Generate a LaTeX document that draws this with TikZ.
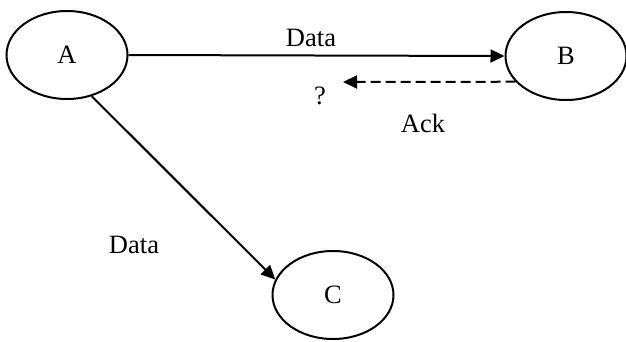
\documentclass[tikz,border=0pt]{standalone}
\usepackage{fontspec}
\setmainfont{Liberation Serif}
\usetikzlibrary{arrows.meta,shapes.geometric}
\begin{document}
\begin{tikzpicture}[x=1pt,y=-1pt,
  state/.style={ellipse,draw,line width=2pt,minimum width=121pt,minimum height=88pt,inner sep=0pt,font=\fontsize{26.5}{31}\selectfont},
  lbl/.style={font=\fontsize{26.5}{31}\selectfont,inner sep=0pt},
  link/.style={line width=2pt,-{Triangle[length=14pt,width=13pt]}}]
\useasboundingbox (0,0) rectangle (626,341);
\node[state] (A) at (67,55) {A};
\node[state] (B) at (566,56) {B};
\node[state] (C) at (333,295) {C};
\draw[link] (A.east) -- (B.west);
\coordinate (q) at (343,82);
\draw[link,dash pattern=on 10pt off 5pt] (B.207.5) -- (q);
\draw[link] (A.301) -- (C.165);
\node[lbl] (d1) at (311,38) {Data};
\node[lbl] (qm) at (320,96) {?};
\node[lbl] (ack) at (423,123) {Ack};
\node[lbl] (d2) at (134,245) {Data};
\end{tikzpicture}
\end{document}
